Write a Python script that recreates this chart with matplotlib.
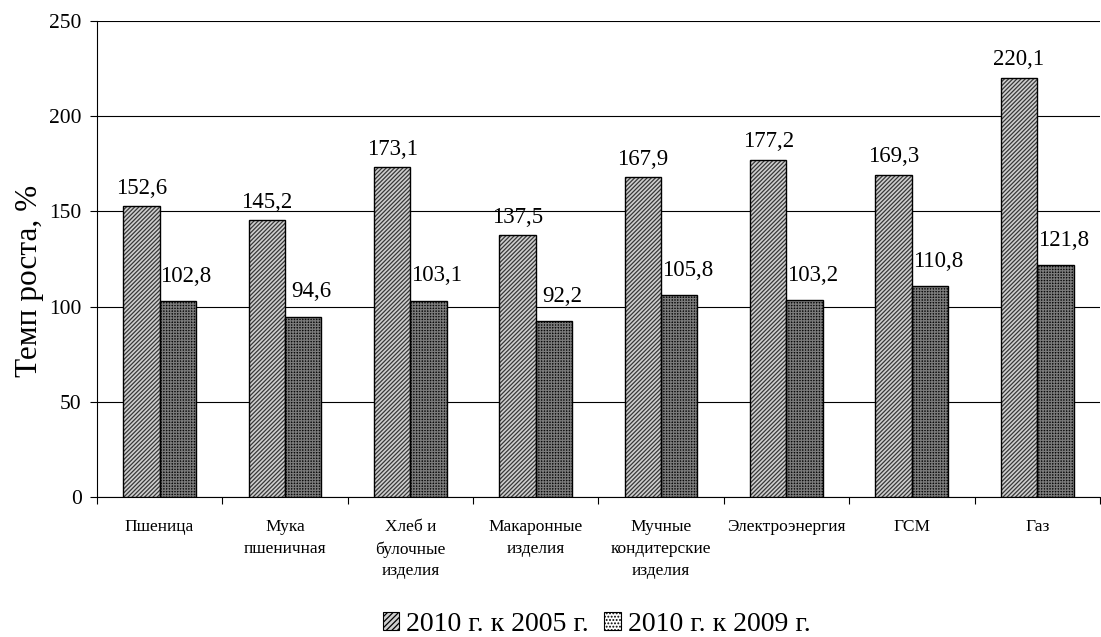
import matplotlib
matplotlib.use("Agg")
import matplotlib.pyplot as plt
import numpy as np
from matplotlib.patches import Patch

plt.rcParams['font.family'] = ['Liberation Serif', 'DejaVu Serif']
plt.rcParams['hatch.linewidth'] = 0.9

categories = ["Пшеница", "Мука\nпшеничная", "Хлеб и\nбулочные\nизделия", "Макаронные\nизделия",
              "Мучные\nкондитерские\nизделия", "Электроэнергия", "ГСМ", "Газ"]
s2005 = [152.6, 145.2, 173.1, 137.5, 167.9, 177.2, 169.3, 220.1]
s2009 = [102.8, 94.6, 103.1, 92.2, 105.8, 103.2, 110.8, 121.8]
series_names = ["2010 г. к 2005 г.", "2010 г. к 2009 г."]

fig = plt.figure(figsize=(11.01, 6.37), dpi=100)
ax = fig.add_axes([0.088, 0.220, 0.911, 0.747])

x = np.arange(len(categories))
w = 0.29

# hatch fills
ax.bar(x - w/2, s2005, w, color='#cfcfcf', edgecolor='#383838', hatch='////////', linewidth=0, zorder=3)
ax.bar(x + w/2, s2009, w, color='#0a0a0a', edgecolor='#7a7a7a', hatch='++++++', linewidth=0, zorder=3)
# outlines
ax.bar(x - w/2, s2005, w, fill=False, edgecolor='black', linewidth=1.0, zorder=4)
ax.bar(x + w/2, s2009, w, fill=False, edgecolor='black', linewidth=1.0, zorder=4)

def fmt(v):
    return f"{v:.1f}".replace('.', ',')

for xi, v in zip(x, s2005):
    ax.annotate(fmt(v), (xi - w/2, v), xytext=(0, 9), textcoords='offset points',
                ha='center', va='baseline', fontsize=16.5)
for xi, v in zip(x, s2009):
    ax.annotate(fmt(v), (xi + w/2, v), xytext=(6, 14), textcoords='offset points',
                ha='center', va='baseline', fontsize=16.5)

ax.set_xlim(-0.5, len(categories) - 0.5)
ax.set_ylim(0, 250)
ax.set_yticks(range(0, 251, 50))
ax.tick_params(axis='y', labelsize=15.5, direction='out', length=5, width=0.8, pad=6)
ax.yaxis.grid(True, color='black', linewidth=0.8, zorder=0)
ax.set_axisbelow(True)

ax.set_xticks(x)
ax.set_xticklabels(categories, fontsize=12.5, va='top', linespacing=1.48)
ax.tick_params(axis='x', length=0, pad=16)
ax.set_xticks(np.arange(-0.5, len(categories), 1), minor=True)
ax.tick_params(axis='x', which='minor', length=5, width=0.8, direction='out')

for s in ['top', 'right']:
    ax.spines[s].set_visible(False)
ax.spines['left'].set_linewidth(0.8)
ax.spines['bottom'].set_linewidth(0.8)

ax.set_ylabel("Темп роста, %", fontsize=22.5, va='center')
ax.yaxis.set_label_coords(-0.067, 0.454)

handles = [Patch(facecolor='#cfcfcf', edgecolor='#383838', hatch='//////', linewidth=0.8),
           Patch(facecolor='white', edgecolor='#999999', hatch='.....', linewidth=0.8)]
leg = fig.legend(handles, series_names, loc='center', bbox_to_anchor=(0.542, 0.02), ncol=2,
                 frameon=False, fontsize=20, handlelength=0.6, handleheight=0.6,
                 handletextpad=0.25, columnspacing=0.55, borderpad=0, borderaxespad=0)
for p in leg.get_patches():
    p.set_edgecolor('black')

fig.savefig("out.png", dpi=100)
